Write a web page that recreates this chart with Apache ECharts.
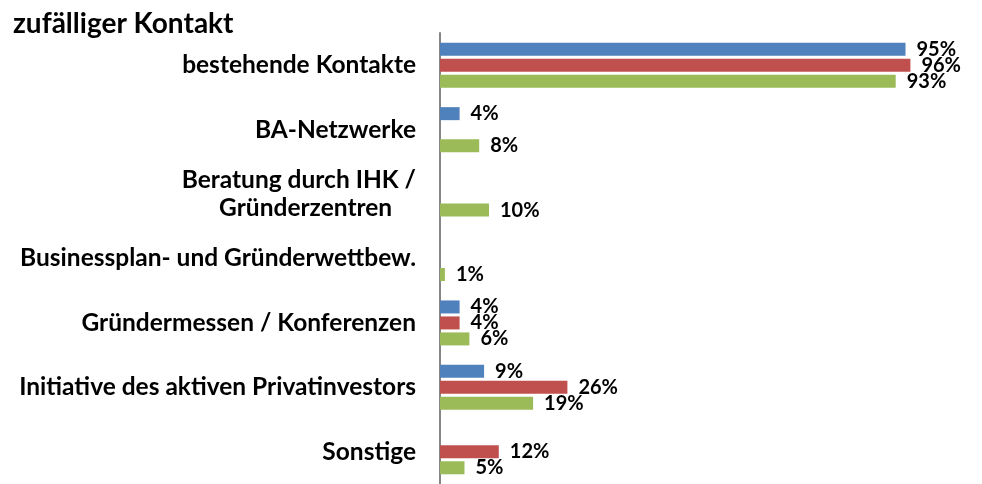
<!DOCTYPE html>
<html>
<head>
<meta charset="utf-8">
<script src="https://cdn.jsdelivr.net/npm/echarts@6/dist/echarts.min.js"></script>
<style>
  html, body { margin: 0; padding: 0; background: #fff; }
  #chart { width: 982px; height: 484px; }
</style>
</head>
<body>
<div id="chart"></div>
<script>
const titleText = 'zufälliger Kontakt'
const categories = [
  'bestehende Kontakte',
  'BA-Netzwerke',
  'Beratung durch IHK /\nGründerzentren    ',
  'Businessplan- und Gründerwettbew.',
  'Gründermessen / Konferenzen',
  'Initiative des aktiven Privatinvestors',
  'Sonstige'
]
// null = no bar in that slot
const blueValues = [95, 4, null, null, 4, 9, null]
const redValues = [96, null, null, null, 4, 26, 12]
const greenValues = [93, 8, 10, 1, 6, 19, 5]

const font = 'Lato, "Open Sans", sans-serif'

const chart = echarts.init(document.getElementById('chart'))

function barSeries(name, data, color) {
  return {
    name: name,
    type: 'bar',
    data: data,
    barWidth: 13,
    barGap: '23%',
    itemStyle: { color: color },
    label: {
      show: true,
      position: 'right',
      distance: 11,
      formatter: p => p.value + '%',
      color: '#000',
      fontFamily: font,
      fontWeight: 700,
      fontSize: 20
    },
    animation: false
  }
}

chart.setOption({
  title: {
    text: titleText,
    left: 8,
    top: 5,
    textStyle: { fontFamily: font, fontWeight: 700, fontSize: 28, color: '#000' }
  },
  grid: {
    left: 440,
    right: 52,
    top: 33,
    bottom: -4
  },
  xAxis: {
    type: 'value',
    min: 0,
    max: 100,
    show: false
  },
  yAxis: {
    type: 'category',
    inverse: true,
    data: categories,
    axisLine: { lineStyle: { color: '#868686', width: 2 } },
    axisTick: { show: false },
    axisLabel: {
      margin: 24,
      color: '#000',
      fontFamily: font,
      fontWeight: 700,
      fontSize: 24.5,
      align: 'right',
      lineHeight: 28
    }
  },
  series: [
    barSeries('blau', blueValues, '#4F81BD'),
    barSeries('rot', redValues, '#C0504D'),
    barSeries('grün', greenValues, '#9BBB59')
  ]
})
</script>
</body>
</html>
